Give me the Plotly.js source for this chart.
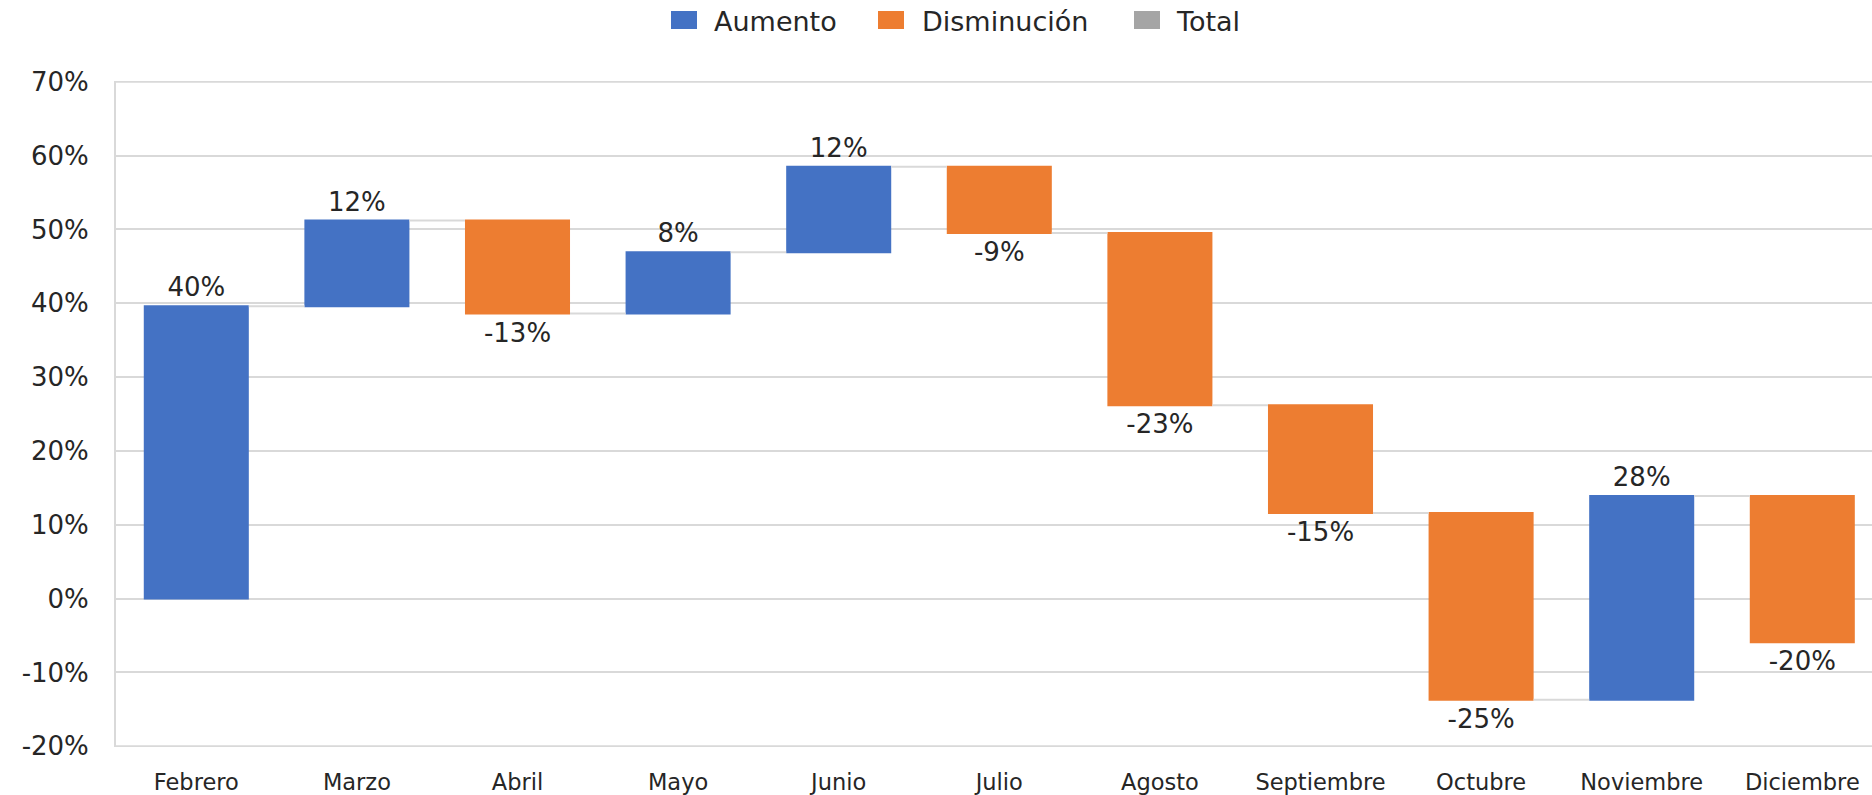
<!DOCTYPE html>
<html>
<head>
<meta charset="utf-8">
<script src="https://cdn.plot.ly/plotly-3.0.1.min.js"></script>
<style>html,body{margin:0;padding:0;background:#fff;}</style>
</head>
<body>
<div id="chart" style="width:1872px;height:795px;"></div>
<script>
// ---- data ----
const categories = ['Febrero','Marzo','Abril','Mayo','Junio','Julio','Agosto','Septiembre','Octubre','Noviembre','Diciembre'];
const changes = [39.6, 11.6, -12.6, 8.3, 11.6, -9.0, -23.3, -14.6, -25.3, 27.6, -19.8];
const measures = ['relative','relative','relative','relative','relative','relative','relative','relative','relative','relative','relative'];
const yTickValues = [-20, -10, 0, 10, 20, 30, 40, 50, 60, 70];
const legendNames = ['Aumento', 'Disminución', 'Total'];
const legendColors = ['#4472C4', '#ED7D31', '#A5A5A5'];

// ---- derived ----
const labels = changes.map(v => Math.round(v) + '%');
const yTickText = yTickValues.map(v => v + '%');

const FONT = 'DejaVu Sans';
const TXT = '#262626';
const GRID = '#d9d9d9';

// layout geometry (pixels)
const W = 1872, H = 795;
const mL = 116, mR = 0, mT = 81, mB = 48;
const plotW = W - mL - mR, plotH = H - mT - mB;
const px2x = p => (p - mL) / plotW;
const py2y = p => (H - mB - p) / plotH;

const legendSquares = [[671, 697], [878, 904], [1134, 1160]];
const legendTextX = [712, 920, 1174];
const legSqTop = 11, legSqBot = 29, legTextY = 21;

const shapes = legendNames.map((n, i) => ({
  type: 'rect', xref: 'paper', yref: 'paper',
  x0: px2x(legendSquares[i][0]), x1: px2x(legendSquares[i][1]),
  y0: py2y(legSqBot), y1: py2y(legSqTop),
  fillcolor: legendColors[i], line: {width: 0}
}));
// edge gridlines (first and last tick) which Plotly omits at the plot border
[yTickValues[0], yTickValues[yTickValues.length - 1]].forEach(v => shapes.push({
  type: 'line', xref: 'paper', yref: 'y', x0: 0, x1: 1, y0: v, y1: v,
  layer: 'below', line: {color: GRID, width: 2}
}));

const annotations = legendNames.map((n, i) => ({
  text: n, xref: 'paper', yref: 'paper',
  x: px2x(legendTextX[i]), y: py2y(legTextY),
  xanchor: 'left', yanchor: 'middle', showarrow: false,
  font: {family: FONT, size: 27, color: TXT}
}));

const trace = {
  type: 'waterfall',
  x: categories,
  y: changes,
  measure: measures,
  text: labels,
  textposition: 'outside',
  textfont: {family: FONT, size: 26, color: TXT},
  cliponaxis: false,
  increasing: {marker: {color: legendColors[0]}},
  decreasing: {marker: {color: legendColors[1]}},
  totals: {marker: {color: legendColors[2]}},
  connector: {mode: 'between', line: {color: GRID, width: 2}},
  hoverinfo: 'skip',
  showlegend: false
};

const layout = {
  width: W, height: H,
  margin: {l: mL, r: mR, t: mT, b: mB, pad: 0},
  paper_bgcolor: '#ffffff', plot_bgcolor: '#ffffff',
  waterfallgap: 0.346,
  showlegend: false,
  font: {family: FONT, color: TXT},
  xaxis: {
    type: 'category', range: [-0.5, 10.434],
    showgrid: false, zeroline: false, showline: false, ticks: '',
    tickfont: {family: FONT, size: 22.5, color: TXT},
    ticklabelstandoff: 19
  },
  yaxis: {
    range: [-20.1, 70.1], tickmode: 'array', tickvals: yTickValues, ticktext: yTickText,
    showgrid: true, gridcolor: GRID, gridwidth: 2,
    zeroline: false, showline: true, linecolor: GRID, linewidth: 2,
    ticks: '', ticklabelstandoff: 20,
    tickfont: {family: FONT, size: 26, color: TXT}
  },
  shapes: shapes,
  annotations: annotations
};

Plotly.newPlot('chart', [trace], layout, {displayModeBar: false, staticPlot: true});
</script>
</body>
</html>
